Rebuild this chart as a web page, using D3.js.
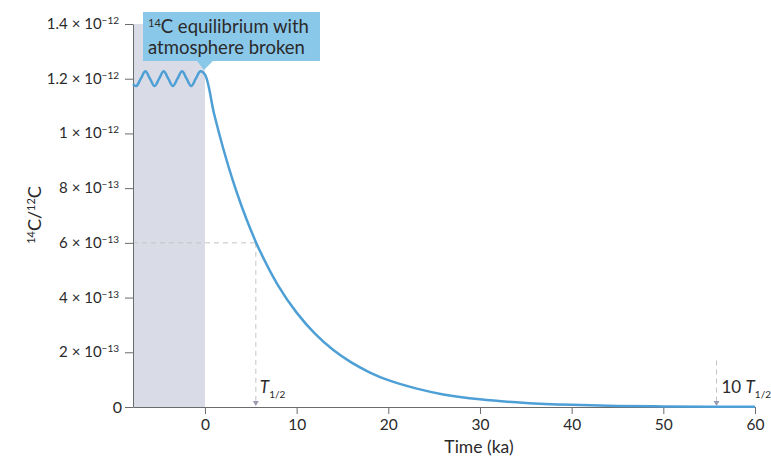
<!DOCTYPE html>
<html>
<head>
<meta charset="utf-8">
<script src="https://cdn.jsdelivr.net/npm/d3@7"></script>
<style>
  body { margin: 0; background: #fff; }
  text { font-family: Lato, "Open Sans", sans-serif; fill: #2a2a2a; }
</style>
</head>
<body>
<div id="chart"></div>
<script>
// valores (tempo em ka, razão 14C/12C)
var waveTime = [-7.85, -7.5, -7, -6.5, -6, -5.5, -5, -4.5, -4, -3.5, -3, -2.5, -2, -1.5, -1, -0.5];
var waveRatio = [1.18e-12, 1.173e-12, 1.2e-12, 1.227e-12, 1.2e-12, 1.173e-12, 1.2e-12, 1.227e-12,
                 1.2e-12, 1.173e-12, 1.2e-12, 1.227e-12, 1.2e-12, 1.173e-12, 1.2e-12, 1.227e-12];
var decayTime = [0, 1, 2, 3, 4, 5, 6, 8, 10, 12, 14, 16, 18, 20, 23, 26, 30, 35, 40, 45, 50, 55, 60];
var decayRatio = [1.215e-12, 1.071e-12, 0.944e-12, 0.832e-12, 0.734e-12, 0.647e-12, 0.570e-12, 0.443e-12,
                  0.345e-12, 0.268e-12, 0.208e-12, 0.162e-12, 0.126e-12, 0.098e-12, 0.068e-12, 0.046e-12,
                  0.028e-12, 0.015e-12, 0.008e-12, 0.004e-12, 0.002e-12, 0.001e-12, 0.0005e-12];

var xTicks = [0, 10, 20, 30, 40, 50, 60];
var yTicks = [0, 2e-13, 4e-13, 6e-13, 8e-13, 1e-12, 1.2e-12, 1.4e-12];
var yTickBase = ["0", "2 × 10", "4 × 10", "6 × 10", "8 × 10", "1 × 10", "1.2 × 10", "1.4 × 10"];
var yTickExp = ["", "−13", "−13", "−13", "−13", "−12", "−12", "−12"];

var halfLife = 5.55;
var halfRatio = 6e-13;
var tenHalfLives = 55.8;
var xDomain = [-7.85, 60];

var width = 771, height = 456;
var margin = { left: 133, right: 16, top: 24, bottom: 49 };

var svg = d3.select("#chart").append("svg")
    .attr("width", width)
    .attr("height", height);

var x = d3.scaleLinear().domain(xDomain).range([margin.left, width - margin.right]);
var y = d3.scaleLinear().domain([0, 1.4e-12]).range([height - margin.bottom, margin.top]);

// região sombreada (antes do t = 0)
svg.append("rect")
    .attr("x", x(xDomain[0]))
    .attr("y", y(1.4e-12))
    .attr("width", x(0) - x(xDomain[0]))
    .attr("height", y(0) - y(1.4e-12))
    .attr("fill", "#d9dce6");

// linhas tracejadas da meia-vida
var dashColor = "#c4c4c4";
svg.append("line")
    .attr("x1", x(xDomain[0])).attr("x2", x(halfLife))
    .attr("y1", y(halfRatio)).attr("y2", y(halfRatio))
    .attr("stroke", dashColor).attr("stroke-dasharray", "5,4");
svg.append("line")
    .attr("x1", x(halfLife)).attr("x2", x(halfLife))
    .attr("y1", y(halfRatio)).attr("y2", y(0) - 5)
    .attr("stroke", dashColor).attr("stroke-dasharray", "5,4");
svg.append("line")
    .attr("x1", x(tenHalfLives)).attr("x2", x(tenHalfLives))
    .attr("y1", y(0.17e-12)).attr("y2", y(0) - 5)
    .attr("stroke", dashColor).attr("stroke-dasharray", "5,4");

[halfLife, tenHalfLives].forEach(function (t) {
    var px = x(t), py = y(0);
    svg.append("path")
        .attr("d", "M" + (px - 3) + "," + (py - 6) + "L" + (px + 3) + "," + (py - 6) + "L" + px + "," + (py - 1) + "Z")
        .attr("fill", "#9a9ab0");
});

// eixos
var xAxis = svg.append("g")
    .attr("transform", "translate(0," + y(0) + ")")
    .call(d3.axisBottom(x).tickValues(xTicks).tickSize(7).tickPadding(5).tickSizeOuter(0));
xAxis.select(".domain").attr("stroke", "#6b6b6b");
xAxis.selectAll(".tick line").attr("stroke", "#6b6b6b");
xAxis.selectAll(".tick text").style("font-size", "15.5px").attr("fill", "#2a2a2a");

var yAxis = svg.append("g")
    .attr("transform", "translate(" + x(xDomain[0]) + ",0)")
    .call(d3.axisLeft(y).tickValues(yTicks).tickSize(8).tickSizeOuter(0).tickFormat(""));
yAxis.select(".domain").attr("stroke", "#6b6b6b");
yAxis.selectAll(".tick line").attr("stroke", "#6b6b6b");

yTicks.forEach(function (v, i) {
    var t = svg.append("text")
        .attr("x", x(xDomain[0]) - 14)
        .attr("y", y(v) + 5)
        .attr("text-anchor", "end")
        .style("font-size", "15px");
    t.append("tspan").text(yTickBase[i]);
    if (yTickExp[i]) {
        t.append("tspan").attr("dy", -5).style("font-size", "10px").text(yTickExp[i]);
    }
    if (!yTickExp[i]) t.attr("x", x(xDomain[0]) - 11).style("font-size", "16px").attr("y", y(v) + 6);
});

// curva
var pts = waveTime.map(function (t, i) { return [t, waveRatio[i]]; })
    .concat(decayTime.map(function (t, i) { return [t, decayRatio[i]]; }));

var line = d3.line()
    .x(function (d) { return x(d[0]); })
    .y(function (d) { return y(d[1]); })
    .curve(d3.curveCatmullRom.alpha(0.5));

svg.append("path")
    .datum(pts)
    .attr("d", line)
    .attr("fill", "none")
    .attr("stroke", "#4d9fd6")
    .attr("stroke-width", 2.5);

// rótulos T1/2
function halfLabel(px, prefix) {
    var t = svg.append("text")
        .attr("x", px)
        .attr("y", y(0) - 14)
        .style("font-size", "17px");
    if (prefix) t.append("tspan").text(prefix);
    t.append("tspan").style("font-style", "italic").text("T");
    t.append("tspan").attr("dy", 5).style("font-size", "10px").text("1/2");
}
halfLabel(x(halfLife) + 4, null);
halfLabel(x(tenHalfLives) + 5, "10 ");

// título dos eixos
svg.append("text")
    .attr("x", x(30) - 1)
    .attr("y", 453)
    .attr("text-anchor", "middle")
    .style("font-size", "17.5px")
    .text("Time (ka)");

var yt = svg.append("text")
    .attr("transform", "translate(41,215) rotate(-90)")
    .attr("text-anchor", "middle")
    .style("font-size", "18px");
yt.append("tspan").attr("dy", -6).style("font-size", "11px").text("14");
yt.append("tspan").attr("dy", 6).text("C/");
yt.append("tspan").attr("dy", -6).style("font-size", "11px").text("12");
yt.append("tspan").attr("dy", 6).text("C");

// balão
var boxX = 143, boxY = 12, boxW = 177, boxH = 49;
var calloutColor = "#8ac8ea";
svg.append("rect")
    .attr("x", boxX).attr("y", boxY)
    .attr("width", boxW).attr("height", boxH)
    .attr("fill", calloutColor);
svg.append("path")
    .attr("d", "M" + (x(0) - 8) + "," + (boxY + boxH) + "L" + (x(0) + 8) + "," + (boxY + boxH) + "L" + (x(0) - 1) + "," + (boxY + boxH + 9) + "Z")
    .attr("fill", calloutColor);

var c1 = svg.append("text")
    .attr("x", boxX + 5)
    .attr("y", boxY + 21)
    .style("font-size", "18.5px");
c1.append("tspan").attr("dy", -6).style("font-size", "11px").text("14");
c1.append("tspan").attr("dy", 6).text("C equilibrium with");
svg.append("text")
    .attr("x", boxX + 5)
    .attr("y", boxY + 42)
    .style("font-size", "18.5px")
    .text("atmosphere broken");
</script>
</body>
</html>
